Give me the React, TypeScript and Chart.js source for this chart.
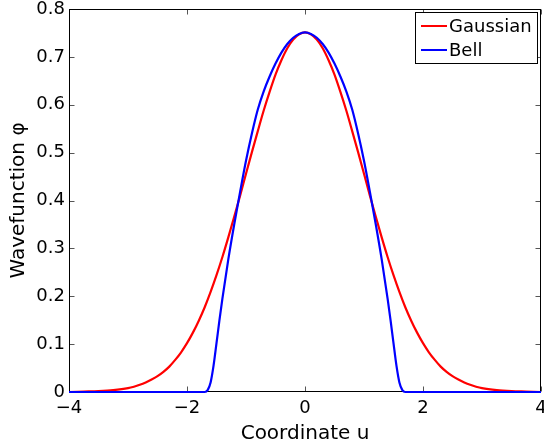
import { useEffect, useRef } from "react";
import { Chart, registerables } from "chart.js";

Chart.register(...registerables);

const xTicks = [-4, -2, 0, 2, 4];
const yTicks = [0, 0.1, 0.2, 0.3, 0.4, 0.5, 0.6, 0.7, 0.8];

const gaussianU = [
  -4, -3.75, -3.5, -3.25, -3, -2.9, -2.8, -2.7, -2.6, -2.5, -2.4, -2.3, -2.2, -2.1, -2, -1.9, -1.8, -1.7, -1.6, -1.5,
  -1.4, -1.3, -1.2, -1.1, -1, -0.9, -0.8, -0.7, -0.6, -0.5, -0.4, -0.3, -0.2, -0.1, 0,
  0.1, 0.2, 0.3, 0.4, 0.5, 0.6, 0.7, 0.8, 0.9, 1, 1.1, 1.2, 1.3, 1.4, 1.5, 1.6, 1.7, 1.8, 1.9, 2,
  2.1, 2.2, 2.3, 2.4, 2.5, 2.6, 2.7, 2.8, 2.9, 3, 3.25, 3.5, 3.75, 4,
];
const gaussianPhi = [
  0.0, 0.001, 0.002, 0.004, 0.008, 0.011, 0.015, 0.02, 0.026, 0.033, 0.042, 0.053, 0.067, 0.083, 0.102, 0.124, 0.149, 0.177, 0.209, 0.244,
  0.282, 0.323, 0.366, 0.41, 0.456, 0.501, 0.545, 0.588, 0.627, 0.663, 0.693, 0.718, 0.736, 0.747, 0.751,
  0.747, 0.736, 0.718, 0.693, 0.663, 0.627, 0.588, 0.545, 0.501, 0.456, 0.41, 0.366, 0.323, 0.282, 0.244, 0.209, 0.177, 0.149, 0.124, 0.102,
  0.083, 0.067, 0.053, 0.042, 0.033, 0.026, 0.02, 0.015, 0.011, 0.008, 0.004, 0.002, 0.001, 0.0,
];

const bellU = [
  -4, -1.7, -1.65, -1.6, -1.55, -1.5, -1.45, -1.4, -1.3, -1.2, -1.1, -1, -0.9, -0.8, -0.7, -0.6, -0.5, -0.4, -0.3, -0.2, -0.1, 0,
  0.1, 0.2, 0.3, 0.4, 0.5, 0.6, 0.7, 0.8, 0.9, 1, 1.1, 1.2, 1.3, 1.4, 1.45, 1.5, 1.55, 1.6, 1.65, 1.7, 4,
];
const bellPhi = [
  0, 0, 0.004, 0.02, 0.055, 0.102, 0.15, 0.195, 0.277, 0.35, 0.418, 0.483, 0.54, 0.59, 0.628, 0.659, 0.686, 0.709, 0.727, 0.74, 0.748, 0.751,
  0.748, 0.74, 0.727, 0.709, 0.686, 0.659, 0.628, 0.59, 0.54, 0.483, 0.418, 0.35, 0.277, 0.195, 0.15, 0.102, 0.055, 0.02, 0.004, 0, 0,
];

const seriesNames = ["Gaussian", "Bell"];
const seriesColors = ["#ff0000", "#0000ff"];

const FONT = "'DejaVu Sans', Verdana, sans-serif";

const framePlugin = {
  id: "matlabFrame",
  beforeDatasetsDraw(chart: any) {
    const { ctx, chartArea } = chart;
    const { left, right, top, bottom } = chartArea;
    const xs = chart.scales.x;
    const ys = chart.scales.y;
    const L = Math.round(left) + 0.5;
    const R = Math.round(right) - 0.5;
    const T = Math.round(top) + 0.5;
    const B = Math.round(bottom) - 0.5;
    ctx.save();
    ctx.lineWidth = 1;
    ctx.strokeStyle = "#555";
    const tl = 5;
    xs.ticks.forEach((t: any) => {
      const px = Math.round(xs.getPixelForValue(t.value)) + 0.5;
      ctx.beginPath();
      ctx.moveTo(px, B);
      ctx.lineTo(px, B - tl);
      ctx.moveTo(px, T);
      ctx.lineTo(px, T + tl);
      ctx.stroke();
    });
    ys.ticks.forEach((t: any) => {
      const py = Math.round(ys.getPixelForValue(t.value)) + 0.5;
      ctx.beginPath();
      ctx.moveTo(L, py);
      ctx.lineTo(L + tl, py);
      ctx.moveTo(R, py);
      ctx.lineTo(R - tl, py);
      ctx.stroke();
    });
    ctx.strokeStyle = "#000";
    ctx.strokeRect(L, T, R - L, B - T);
    ctx.restore();
  },
};

const legendPlugin = {
  id: "matlabLegend",
  afterDatasetsDraw(chart: any) {
    const { ctx } = chart;
    const bx = 415.5;
    const by = 12.5;
    const bw = 122;
    const bh = 51;
    ctx.save();
    ctx.fillStyle = "#fff";
    ctx.fillRect(bx, by, bw, bh);
    ctx.strokeStyle = "#000";
    ctx.lineWidth = 1;
    ctx.strokeRect(bx, by, bw, bh);
    ctx.font = `18px ${FONT}`;
    ctx.textBaseline = "middle";
    ctx.textAlign = "left";
    chart.data.datasets.forEach((ds: any, i: number) => {
      const cy = 26 + i * 24;
      ctx.strokeStyle = ds.borderColor;
      ctx.lineWidth = 2;
      ctx.beginPath();
      ctx.moveTo(421, cy);
      ctx.lineTo(447, cy);
      ctx.stroke();
      ctx.fillStyle = "#000";
      ctx.fillText(ds.label, 449, cy + 1);
    });
    ctx.restore();
  },
};

export default function App() {
  const ref = useRef<HTMLCanvasElement | null>(null);

  useEffect(() => {
    if (!ref.current) return;
    const chart = new Chart(ref.current, {
      type: "line",
      data: {
        datasets: [
          {
            label: seriesNames[0],
            data: gaussianU.map((u, i) => ({ x: u, y: gaussianPhi[i] })),
            borderColor: seriesColors[0],
            backgroundColor: seriesColors[0],
            borderWidth: 2.2,
            pointRadius: 0,
            cubicInterpolationMode: "monotone",
            clip: 4,
            order: 1,
          },
          {
            label: seriesNames[1],
            data: bellU.map((u, i) => ({ x: u, y: bellPhi[i] })),
            borderColor: seriesColors[1],
            backgroundColor: seriesColors[1],
            borderWidth: 2.2,
            pointRadius: 0,
            cubicInterpolationMode: "monotone",
            clip: 4,
            order: 0,
          },
        ],
      },
      options: {
        responsive: false,
        animation: false,
        events: [],
        layout: { padding: { top: 9, right: 3, left: 0, bottom: 0 } },
        plugins: {
          legend: { display: false },
          tooltip: { enabled: false },
        },
        scales: {
          x: {
            type: "linear",
            min: xTicks[0],
            max: xTicks[xTicks.length - 1],
            afterBuildTicks: (scale: any) => {
              scale.ticks = xTicks.map((v) => ({ value: v }));
            },
            grid: { display: false, drawTicks: false },
            border: { display: false },
            ticks: {
              color: "#000",
              padding: 6,
              maxRotation: 0,
              font: { family: FONT, size: 18 },
              callback: (v: any) => (Number(v) < 0 ? "\u2212" + Math.abs(Number(v)) : String(v)),
            },
            title: {
              display: true,
              text: "Coordinate u",
              color: "#000",
              font: { family: FONT, size: 20, lineHeight: 1.1 },
              padding: { top: 0, bottom: 0 },
            },
            afterFit: (scale: any) => {
              scale.height = 53;
              scale.paddingLeft = 0;
              scale.paddingRight = 0;
            },
          },
          y: {
            type: "linear",
            min: yTicks[0],
            max: yTicks[yTicks.length - 1],
            afterBuildTicks: (scale: any) => {
              scale.ticks = yTicks.map((v) => ({ value: v }));
            },
            grid: { display: false, drawTicks: false },
            border: { display: false },
            ticks: {
              color: "#000",
              padding: 4,
              font: { family: FONT, size: 18 },
              callback: (v: any) => (Number(v) === 0 ? "0" : Number(v).toFixed(1)),
            },
            title: {
              display: true,
              text: "Wavefunction \u03c6",
              color: "#000",
              font: { family: FONT, size: 20, lineHeight: 1.2 },
              padding: { top: 7, bottom: 0 },
            },
            afterFit: (scale: any) => {
              scale.width = 69;
              scale.paddingTop = 0;
              scale.paddingBottom = 0;
            },
          },
        },
      },
      plugins: [framePlugin, legendPlugin],
    });
    return () => chart.destroy();
  }, []);

  return (
    <div style={{ position: "absolute", left: 0, top: 0, width: 544, height: 445, background: "#fff" }}>
      <canvas ref={ref} width={544} height={445} />
    </div>
  );
}
